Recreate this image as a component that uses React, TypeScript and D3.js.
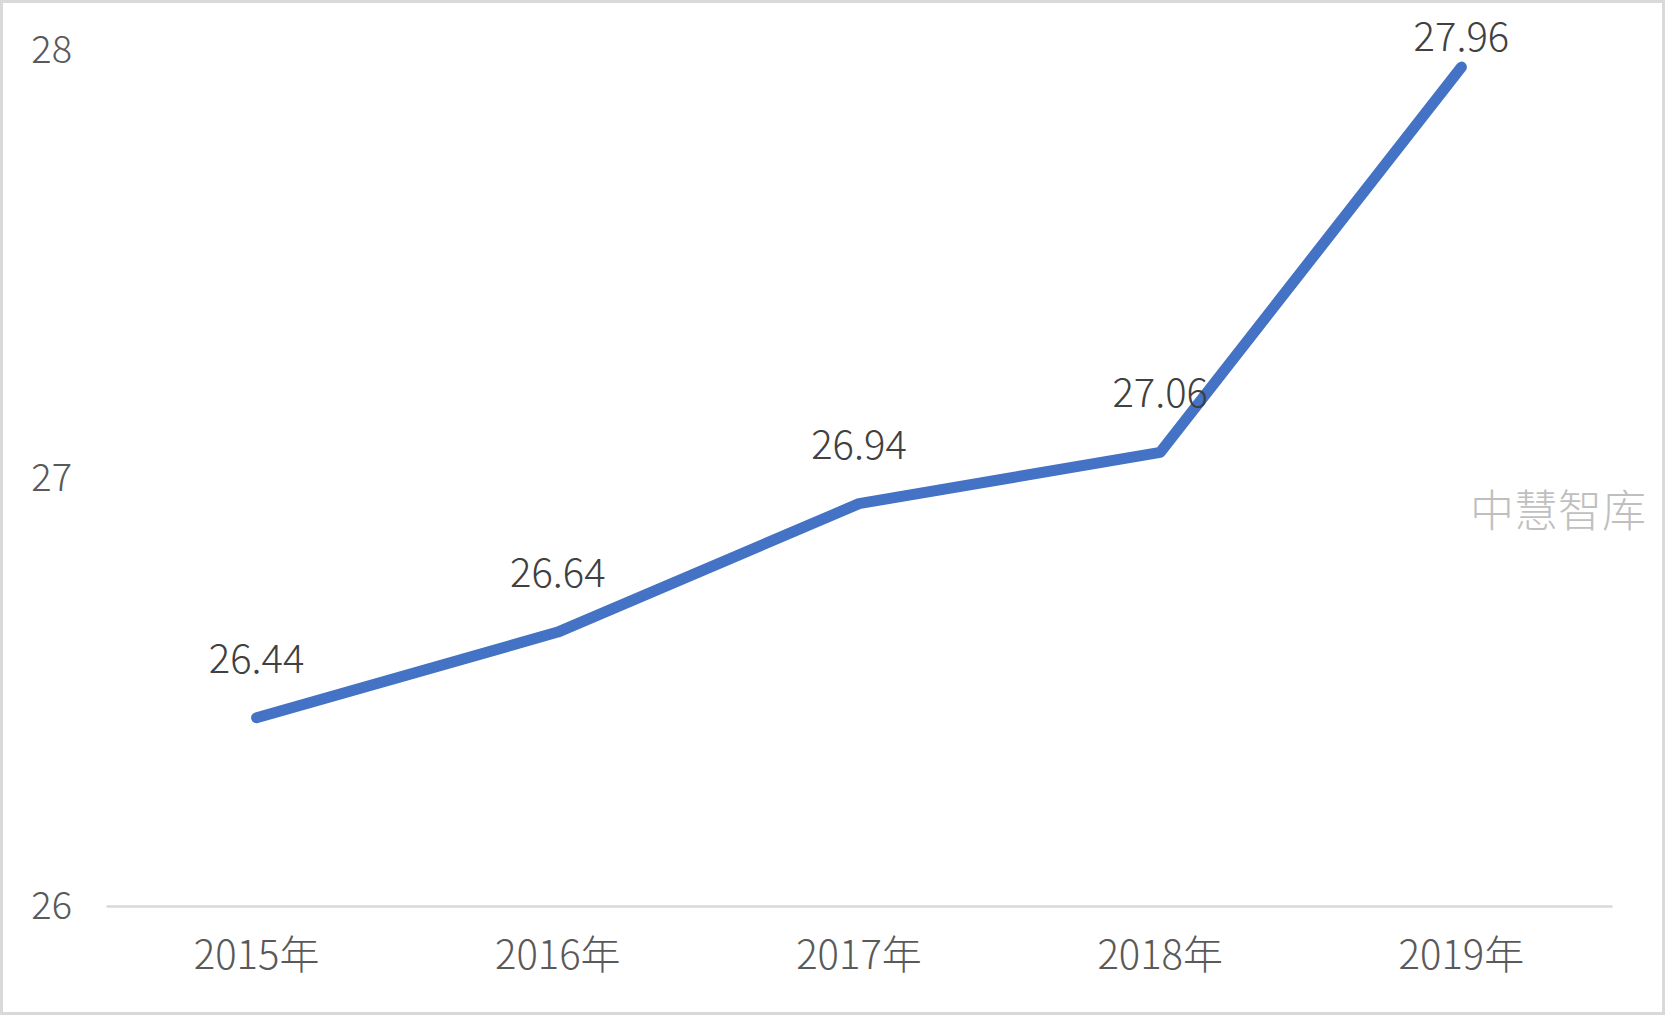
import React, { useEffect, useRef } from 'react';
import { axisBottom, axisLeft, line, scaleBand, scaleLinear, select } from 'd3';

const years = ['2015年', '2016年', '2017年', '2018年', '2019年'];
const values = [26.44, 26.64, 26.94, 27.06, 27.96];
const yTicks = [26, 27, 28];

const W = 1665;
const H = 1015;
const margin = { top: 50, right: 53, bottom: 109, left: 106 };
const font = '"Noto Sans CJK SC", "Noto Sans", sans-serif';

const App: React.FC = () => {
  const gRef = useRef<SVGGElement>(null);

  useEffect(() => {
    document.body.style.margin = '0';
    const width = W - margin.left - margin.right;
    const height = H - margin.top - margin.bottom;

    const x = scaleBand().domain(years).range([0, width]).padding(0);
    const y = scaleLinear().domain([26, 28]).range([height, 0]);
    const cx = (d: string) => (x(d) as number) + x.bandwidth() / 2;

    const g = select(gRef.current);
    g.selectAll('*').remove();

    // x axis: only the baseline and category labels
    const xa = g.append('g')
      .attr('transform', `translate(0,${height})`)
      .call(axisBottom(x).tickSize(0).tickPadding(35));
    xa.select('.domain').attr('stroke', '#d9d9d9').attr('stroke-width', 2.5);
    xa.selectAll('text')
      .attr('font-family', font)
      .attr('font-weight', 300)
      .attr('font-size', 40)
      .attr('fill', '#595959');

    const ya = g.append('g')
      .call(axisLeft(y).tickValues(yTicks).tickSize(0).tickPadding(34).tickFormat((d: any) => String(d)));
    ya.select('.domain').remove();
    ya.selectAll('text')
      .attr('font-family', font)
      .attr('font-weight', 300)
      .attr('font-size', 38)
      .attr('fill', '#595959');

    const pts = years.map((d, i) => ({ year: d, v: values[i] }));
    const path = line<{ year: string; v: number }>()
      .x(d => cx(d.year))
      .y(d => y(d.v));

    g.append('path')
      .datum(pts)
      .attr('d', path)
      .attr('fill', 'none')
      .attr('stroke', '#4472c4')
      .attr('stroke-width', 11)
      .attr('stroke-linecap', 'round')
      .attr('stroke-linejoin', 'round');

    g.selectAll('.lbl')
      .data(pts)
      .join('text')
      .attr('class', 'lbl')
      .attr('x', d => cx(d.year))
      .attr('y', d => Math.max(y(d.v) - 62, -16))
      .attr('text-anchor', 'middle')
      .attr('dominant-baseline', 'central')
      .attr('font-family', font)
      .attr('font-weight', 300)
      .attr('font-size', 40)
      .attr('fill', '#404040')
      .text(d => d.v.toFixed(2));
  }, []);

  return (
    <svg width={W} height={H} style={{ display: 'block' }}>
      <rect x={1.5} y={1.5} width={W - 3} height={H - 3} fill="#fff" stroke="#d9d9d9" strokeWidth={3} />
      <g ref={gRef} transform={`translate(${margin.left},${margin.top})`} />
      <text x={1646} y={508} textAnchor="end" dominantBaseline="central"
        fontFamily={font} fontWeight={300} fontSize={44} fill="#bfbfbf">中慧智库</text>
    </svg>
  );
};

export default App;
